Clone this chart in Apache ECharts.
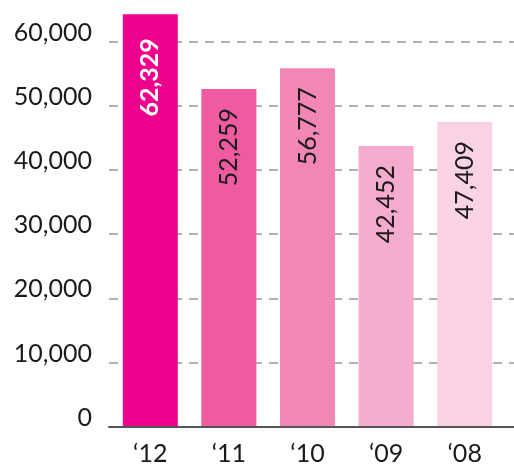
<!DOCTYPE html>
<html>
<head>
<meta charset="utf-8">
<script src="https://cdn.jsdelivr.net/npm/echarts@6/dist/echarts.min.js"></script>
<style>
  html, body { margin: 0; padding: 0; background: #fff; }
  #chart { width: 514px; height: 466px; }
</style>
</head>
<body>
<div id="chart"></div>
<script>
  // years, newest first as in the original
  const years = ["\u201812", "\u201811", "\u201810", "\u201809", "\u201808"];
  // bar heights as drawn in the picture
  const barValues = [64300, 52600, 55870, 43720, 47460];
  // printed values on the bars
  const valueLabels = ["62,329", "52,259", "56,777", "42,452", "47,409"];
  const barColors = ["#ec008c", "#ee5ba0", "#f287b5", "#f5abce", "#f9d3e5"];
  const yTicks = [0, 10000, 20000, 30000, 40000, 50000, 60000];

  const font = "Lato, 'Open Sans', sans-serif";
  const chart = echarts.init(document.getElementById("chart"));

  function fmt(v) {
    return v.toLocaleString("en-US");
  }

  chart.setOption({
    animation: false,
    grid: [
      { left: 109, right: 0, top: 41.7, bottom: 39.3 },
      { left: 111, right: 10, top: 41.7, bottom: 39.3 }
    ],
    xAxis: [
      {
        gridIndex: 0, type: "category", data: years,
        axisLine: { lineStyle: { color: "#555", width: 2 } },
        axisTick: { show: false }, axisLabel: { show: false }
      },
      {
        gridIndex: 1, type: "category", data: years,
        axisLine: { show: false }, axisTick: { show: false },
        axisLabel: { color: "#1a1a1a", fontFamily: font, fontSize: 25, margin: 15 }
      }
    ],
    yAxis: [
      {
        gridIndex: 0, type: "value",
        min: yTicks[0], max: yTicks[yTicks.length - 1], interval: 10000,
        axisLine: { show: false }, axisTick: { show: false },
        axisLabel: {
          color: "#1a1a1a", fontFamily: font, fontSize: 25, margin: 17,
          verticalAlign: "bottom", lineHeight: 18,
          formatter: (v) => fmt(v)
        },
        splitLine: { lineStyle: { color: "#999", width: 1.5, type: [9, 7] } }
      },
      {
        gridIndex: 1, type: "value",
        min: yTicks[0], max: yTicks[yTicks.length - 1],
        show: false
      }
    ],
    series: [
      {
        type: "bar", xAxisIndex: 1, yAxisIndex: 1,
        barWidth: 55, clip: false,
        data: barValues.map((v, i) => ({
          value: v,
          itemStyle: { color: barColors[i] },
          label: {
            show: true, rotate: 90, position: "insideTop",
            align: "right", verticalAlign: "middle",
            distance: i === 0 ? 24 : 19,
            fontFamily: font, fontSize: 25,
            fontWeight: i === 0 ? "bold" : "normal",
            color: i === 0 ? "#fff" : "#1a1a1a",
            formatter: () => valueLabels[i]
          }
        }))
      }
    ]
  });
</script>
</body>
</html>
